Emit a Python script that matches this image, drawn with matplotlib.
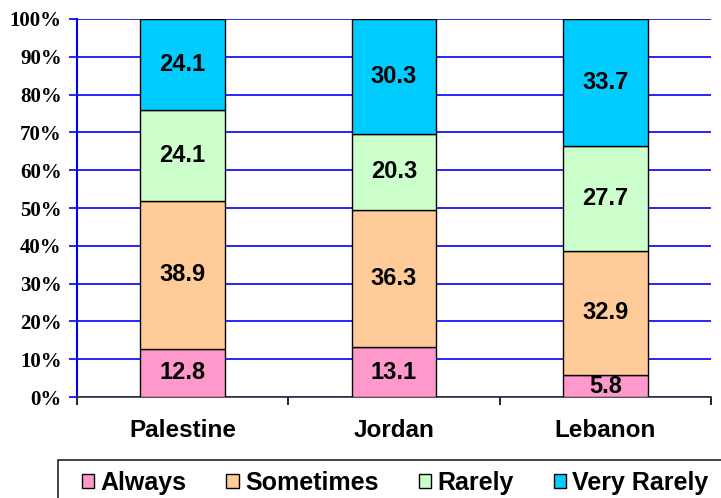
import matplotlib
matplotlib.use("Agg")
import matplotlib.pyplot as plt
import numpy as np
from matplotlib.patches import Rectangle

countries = ["Palestine", "Jordan", "Lebanon"]
series_names = ["Always", "Sometimes", "Rarely", "Very Rarely"]
always = [12.8, 13.1, 5.8]
sometimes = [38.9, 36.3, 32.9]
rarely = [24.1, 20.3, 27.7]
very_rarely = [24.1, 30.3, 33.7]
colors = ["#FF99CC", "#FFCC99", "#CCFFCC", "#00CCFF"]
ytick_labels = ["0%", "10%", "20%", "30%", "40%", "50%", "60%", "70%", "80%", "90%", "100%"]

data = np.array([always, sometimes, rarely, very_rarely])
totals = data.sum(axis=0)
pct = data / totals * 100

W, H = 721, 498
fig = plt.figure(figsize=(W / 100, H / 100), dpi=100)
ax = fig.add_axes([77 / W, 1 - 397 / H, 634 / W, 378 / H])

x = np.arange(len(countries))
bottom = np.zeros(len(countries))
for i, name in enumerate(series_names):
    ax.bar(x, pct[i], 0.4, bottom=bottom, color=colors[i], edgecolor="black",
           linewidth=1.0, label=name, zorder=3)
    for j in range(len(countries)):
        ax.text(x[j], bottom[j] + pct[i][j] / 2, f"{data[i][j]:.1f}", ha="center", va="center",
                fontsize=17, fontweight="bold", family="Liberation Sans", zorder=4)
    bottom += pct[i]

ax.set_xlim(-0.5, 2.5)
ax.set_ylim(0, 100)
ax.set_yticks(np.arange(0, 101, 10))
ax.set_yticklabels(ytick_labels, family="Liberation Serif", fontweight="bold", fontsize=15)
ax.yaxis.grid(True, color="#0000FF", linewidth=1.2, zorder=0)
ax.tick_params(axis="y", colors="#0000FF", length=6, width=1.2, pad=5)
for lab in ax.get_yticklabels():
    lab.set_color("black")

ax.set_xticks(x)
ax.set_xticklabels(countries, family="Liberation Sans", fontweight="bold", fontsize=17.5)
ax.tick_params(axis="x", length=0, pad=16)
ax.set_xticks([-0.5, 0.5, 1.5, 2.5], minor=True)
ax.tick_params(axis="x", which="minor", length=6, width=1.2, color="black")

for s in ["top", "right"]:
    ax.spines[s].set_visible(False)
ax.spines["left"].set_color("#0000FF")
ax.spines["left"].set_linewidth(1.5)
ax.spines["bottom"].set_color("#333333")
ax.spines["bottom"].set_linewidth(1.2)

fig.patches.append(Rectangle((58 / W, -0.05), 1.0, (1 - 460 / H) + 0.05,
                             transform=fig.transFigure, fill=False, edgecolor="#222222",
                             linewidth=1.2))
handles, labels = ax.get_legend_handles_labels()
leg = fig.legend(handles, labels, loc="center left", bbox_to_anchor=(69 / W, 1 - 483 / H),
                 ncol=4, frameon=False, borderpad=0, handlelength=0.5, handleheight=0.5,
                 handletextpad=0.25, columnspacing=1.6,
                 prop={"family": "Liberation Sans", "weight": "bold", "size": 18})

fig.savefig("out.png", dpi=100)
